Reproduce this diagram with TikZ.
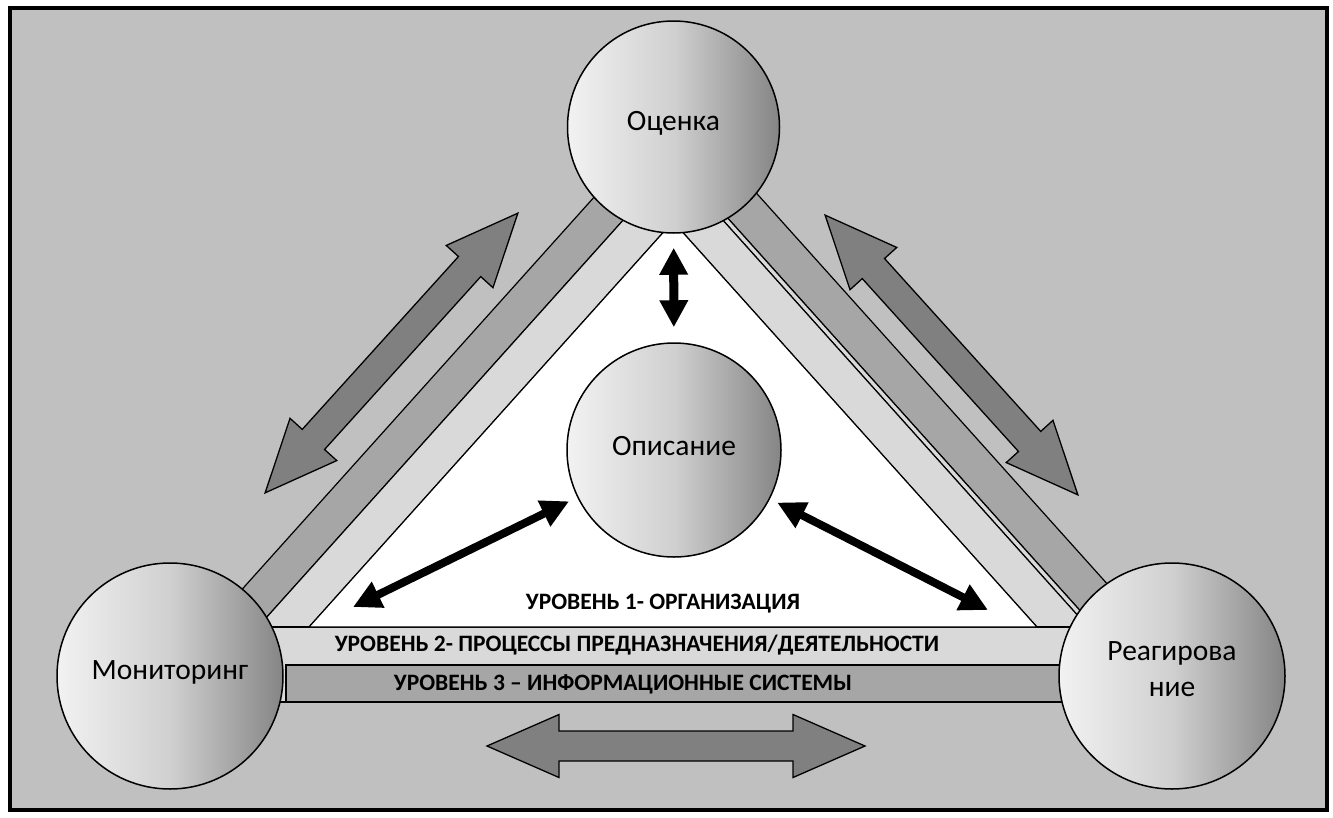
\documentclass[tikz,border=0pt]{standalone}
\usepackage{fontspec}
\setmainfont{Carlito}
\usetikzlibrary{arrows.meta}
\definecolor{bg}{HTML}{C0C0C0}
\definecolor{lvtwo}{HTML}{D9D9D9}
\definecolor{lvthree}{HTML}{A6A6A6}
\definecolor{bigarr}{HTML}{808080}
\definecolor{circL}{HTML}{F2F2F2}
\definecolor{circM}{HTML}{D0D0D0}
\definecolor{circR}{HTML}{858585}
\tikzset{
  band/.style={draw=black, line width=1.2pt, line join=miter},
  bigarrowstyle/.style={draw=black, line width=1.3pt, fill=bigarr, line join=miter},
  circ/.style={circle, draw=black, line width=1.5pt, inner sep=0pt, minimum size=#1,
    left color=circL, right color=circR, middle color=circM},
  circtext/.style={inner sep=0pt, align=center, font=\fontsize{29.5}{36}\selectfont},
  lvtext/.style={inner sep=0pt, font=\bfseries\fontsize{23.5}{27}\selectfont},
  blk/.style={draw=black, line width=9pt, {Triangle[length=27pt,width=27pt]}-{Triangle[length=27pt,width=27pt]}},
  blktwo/.style={draw=black, line width=8pt, {Triangle[length=28pt,width=27pt]}-{Triangle[length=28pt,width=27pt]}}
}
\newcommand\blockarrow[4]{% cx cy angle halflength
  \begin{scope}[shift={(#1,#2)}, rotate=#3]
    \draw[bigarrowstyle] (-#4,0) -- (-#4+72,31.5) -- (-#4+72,15) -- (#4-72,15) -- (#4-72,31.5)
      -- (#4,0) -- (#4-72,-31.5) -- (#4-72,-15) -- (-#4+72,-15) -- (-#4+72,-31.5) -- cycle;
  \end{scope}}
\begin{document}
\begin{tikzpicture}[x=1pt, y=-1pt]
\useasboundingbox (0,0) rectangle (1333,817);
\fill[white] (0,0) rectangle (1333,817);
\draw[line width=4pt, fill=bg] (9.5,7.5) rectangle (1327,810);

% right bands
\draw[band, fill=lvthree] (666.6,150) -- (1160.3,700) -- (1211.4,700) -- (717.7,150) -- cycle;
\draw[band, fill=lvtwo] (659.9,150) -- (1153.6,700) -- (1160.3,700) -- (666.6,150) -- cycle;
\draw[band, fill=lvtwo] (608.8,150) -- (1102.5,700) -- (1153.6,700) -- (659.9,150) -- cycle;
% left bands
\draw[band, fill=lvthree] (686.1,150) -- (192.4,700) -- (142.7,700) -- (636.4,150) -- cycle;
\draw[band, fill=lvtwo] (737.2,150) -- (243.5,700) -- (192.4,700) -- (686.1,150) -- cycle;

% bottom levels
\draw[band, fill=lvtwo] (230,627) rectangle (1110,702);
\draw[band, fill=lvthree] (286,665) rectangle (1110,702);
% level 1 triangle
\draw[band, fill=white] (673,221.5) -- (309,627) -- (1037,627) -- cycle;

% big block arrows
\blockarrow{391.5}{353}{47.9}{188.5}
\blockarrow{951.5}{355}{-47.9}{188.5}
\blockarrow{676}{746}{0}{189}

% circles
\node[circ=212pt] (ocenka) at (673.5,127) {};
\node[circ=214pt] (opisanie) at (674,450) {};
\node[circ=226pt] (monitoring) at (170,676) {};
\node[circ=226pt] (reag) at (1172,676) {};
\node[circtext] (ocenkatext) at (673.5,123) {Оценка};
\node[circtext] (opisanietext) at (674,446) {Описание};
\node[circtext] (monitoringtext) at (170,672) {Мониторинг};
\node[circtext] (reagtext) at (1172,669) {Реагирова\\ние};

% black arrows
\coordinate (lcorner) at (353,607);
\coordinate (rcorner) at (988,610);
\draw[blk, shorten <=14pt, shorten >=15pt] (ocenka) -- (opisanie);
\draw[blktwo, shorten <=9pt] (opisanie) -- (lcorner);
\draw[blktwo, shorten <=8pt] (opisanie) -- (rcorner);

% level texts
\node[lvtext] (lvone) at (663,604) {УРОВЕНЬ 1- ОРГАНИЗАЦИЯ};
\node[lvtext] (lvtwotext) at (637,645) {УРОВЕНЬ 2- ПРОЦЕССЫ ПРЕДНАЗНАЧЕНИЯ/ДЕЯТЕЛЬНОСТИ};
\node[lvtext] (lvthreetext) at (623,684) {УРОВЕНЬ 3 – ИНФОРМАЦИОННЫЕ СИСТЕМЫ};
\end{tikzpicture}
\end{document}
